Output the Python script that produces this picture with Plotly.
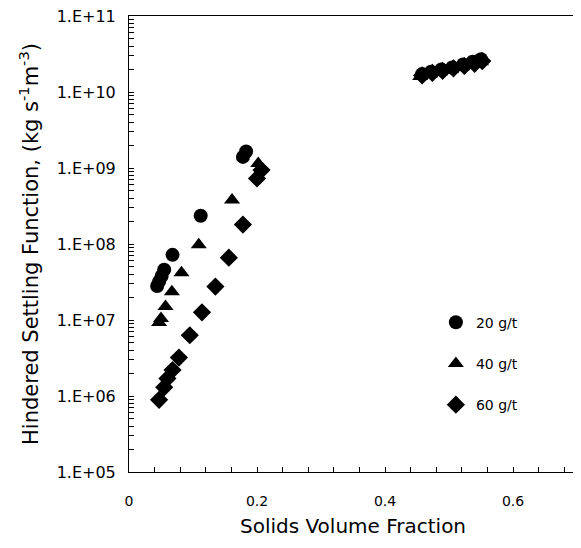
import plotly.graph_objects as go

# 20 g/t (circles)
x_20 = [0.044, 0.047, 0.051, 0.055, 0.068, 0.112, 0.178, 0.183,
        0.458, 0.472, 0.488, 0.505, 0.522, 0.537, 0.550]
y_20 = [2.8e7, 3.2e7, 3.8e7, 4.6e7, 7.2e7, 2.35e8, 1.4e9, 1.65e9,
        1.72e10, 1.85e10, 1.98e10, 2.1e10, 2.3e10, 2.5e10, 2.7e10]

# 40 g/t (triangles)
x_40 = [0.047, 0.050, 0.057, 0.067, 0.082, 0.109, 0.161, 0.202,
        0.455, 0.470, 0.486, 0.503, 0.520, 0.536, 0.550]
y_40 = [9.3e6, 1.05e7, 1.5e7, 2.35e7, 4.2e7, 9.8e7, 3.8e8, 1.15e9,
        1.6e10, 1.72e10, 1.85e10, 1.98e10, 2.15e10, 2.3e10, 2.5e10]

# 60 g/t (diamonds)
x_60 = [0.047, 0.055, 0.060, 0.068, 0.078, 0.095, 0.114, 0.135, 0.156,
        0.178, 0.200, 0.207,
        0.458, 0.474, 0.490, 0.507, 0.524, 0.540, 0.552]
y_60 = [8.9e5, 1.3e6, 1.7e6, 2.2e6, 3.2e6, 6.3e6, 1.26e7, 2.75e7, 6.6e7,
        1.8e8, 7.3e8, 9.4e8,
        1.65e10, 1.78e10, 1.9e10, 2.05e10, 2.2e10, 2.35e10, 2.55e10]

y_tick_labels = ["1.E+05", "1.E+06", "1.E+07", "1.E+08", "1.E+09", "1.E+10", "1.E+11"]
x_tick_labels = {0: "0", 5: "0.2", 10: "0.4", 15: "0.6"}

font = "DejaVu Sans, Arial, sans-serif"

fig = go.Figure()

# drawn 60 -> 20 so circles sit on top; legendrank keeps 20/40/60 order
series = [("60 g/t", x_60, y_60, "diamond", 3),
          ("40 g/t", x_40, y_40, "triangle-up", 2),
          ("20 g/t", x_20, y_20, "circle", 1)]
for name, xs, ys, sym, rank in series:
    fig.add_trace(go.Scatter(x=xs, y=ys, mode="markers", name=name,
                             legendgroup=name, legendrank=rank,
                             marker=dict(symbol=sym, size=14, color="black")))

# log ticks: label at each decade, blank minor ticks in between
y_vals, y_text = [], []
for i, d in enumerate(range(5, 11)):
    for m in range(1, 10):
        y_vals.append(m * 10 ** d)
        y_text.append(y_tick_labels[i] if m == 1 else "")
y_vals.append(1e11)
y_text.append(y_tick_labels[-1])

x_vals = [round(i * 0.04, 2) for i in range(18)]
x_text = [x_tick_labels.get(i, "") for i in range(18)]

fig.update_xaxes(range=[0, 0.7], tickvals=x_vals, ticktext=x_text,
                 ticks="inside", ticklen=5, tickcolor="black",
                 showline=True, linecolor="black", linewidth=1, mirror=True,
                 showgrid=False, zeroline=False, automargin=False,
                 ticklabelstandoff=16, ticklabeloverflow="allow",
                 tickfont=dict(family=font, size=14, color="black"),
                 title=dict(text="Solids Volume Fraction", standoff=11,
                            font=dict(family=font, size=20, color="black")))

fig.update_yaxes(type="log", range=[5, 11], tickvals=y_vals, ticktext=y_text,
                 ticks="inside", ticklen=5, tickcolor="black",
                 showline=True, linecolor="black", linewidth=1, mirror=True,
                 showgrid=False, zeroline=False, ticklabelstandoff=9,
                 automargin=False, ticklabeloverflow="allow",
                 tickfont=dict(family=font, size=16, color="black"),
                 title=dict(text="Hindered Settling Function, (kg s<sup>-1</sup>m<sup>-3</sup>)",
                            standoff=12,
                            font=dict(family=font, size=21, color="black")))

# page body adds an 8px margin, so the figure is 8px smaller on each side
fig.update_layout(width=573, height=540,
                  margin=dict(l=121, r=4, t=8, b=76),
                  plot_bgcolor="white", paper_bgcolor="white",
                  showlegend=True,
                  legend=dict(x=0.685, y=0.3625, xanchor="left", yanchor="top",
                              traceorder="grouped", tracegroupgap=20,
                              itemwidth=30, bgcolor="rgba(0,0,0,0)",
                              font=dict(family=font, size=14, color="black")))

fig.write_html("out.html")
